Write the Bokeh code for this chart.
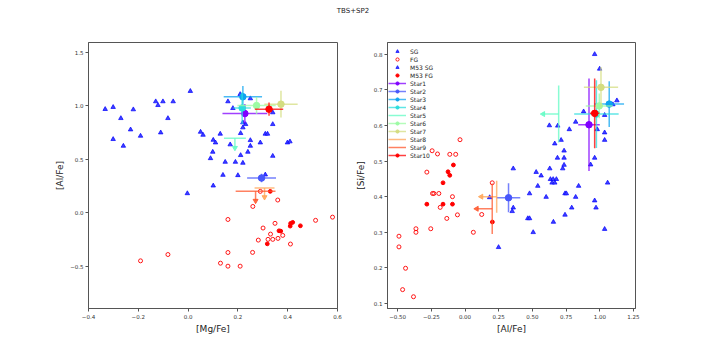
import numpy as np
from bokeh.plotting import figure
from bokeh.models import (Range1d, FixedTicker, Legend, LegendItem, Div,
                          CustomJSTickFormatter)
from bokeh.layouts import row, column
from bokeh.embed import file_html
from bokeh.resources import INLINE

TITLE = "TBS+SP2"
STAR_NAMES = ["Star1", "Star2", "Star3", "Star4", "Star5",
              "Star6", "Star7", "Star8", "Star9", "Star10"]

# ---------------- left panel: [Mg/Fe] vs [Al/Fe] ----------------
L_SG_MG = [-0.333, -0.301, -0.270, -0.220, -0.301, -0.260, -0.231, -0.191, -0.130, -0.121,
           -0.101, -0.060, -0.081, -0.110, 0.009, 0.050, 0.060, 0.129, 0.101, 0.110,
           0.169, 0.099, 0.090, 0.149, 0.190, 0.220, 0.211, 0.240, 0.250, 0.250,
           0.290, 0.211, 0.220, 0.231, 0.220, 0.310, 0.319, 0.340, 0.340, 0.340]
L_SG_AL = [0.969, 0.988, 0.884, 0.966, 0.688, 0.625, 0.778, 0.719, 1.041, 1.006,
           1.041, 1.041, 0.884, 0.750, 1.138, 0.756, 0.728, 0.738, 0.681, 0.656,
           0.638, 0.569, 0.509, 0.475, 0.475, 0.466, 0.538, 0.569, 0.625, 0.678,
           0.656, 0.744, 0.797, 0.828, 0.844, 0.738, 0.738, 0.828, 0.938, 0.531]
L_M53SG_MG = [0.399, 0.409, 0.140, 0.200, 0.310, 0.101, -0.003, 0.160, 0.180, 0.209, 0.250]
L_M53SG_AL = [0.656, 0.666, 0.353, 0.350, 0.356, 0.253, 0.181, 1.041, 0.978, 1.109, 1.069]

L_FG_MG = [0.160, 0.260, 0.360, -0.191, -0.081, 0.160, 0.130, 0.160, 0.209, 0.580, 0.349,
           0.512, 0.301, 0.331, 0.380, 0.282, 0.321, 0.340, 0.361, 0.411, 0.259, 0.290]
L_FG_AL = [-0.063, 0.059, 0.119, -0.450, -0.391, -0.372, -0.472, -0.500, -0.500, -0.041, -0.099,
           -0.071, -0.143, -0.200, -0.212, -0.256, -0.249, -0.249, -0.240, -0.293, -0.371, 0.200]
L_M53FG_MG = [0.412, 0.420, 0.410, 0.451, 0.365, 0.372, 0.318, 0.330]
L_M53FG_AL = [-0.099, -0.090, -0.125, -0.122, -0.169, -0.172, -0.291, 0.200]

L_STAR_MG = [0.228, 0.295, 0.220, 0.217, 0.188, 0.275, 0.373, 0.307, 0.271, 0.325]
L_STAR_AL = [0.928, 0.325, 1.085, 0.980, 0.697, 1.003, 1.016, 0.231, 0.200, 0.969]
L_STAR_MG_ERR = [0.090, 0.058, 0.077, 0.035, 0.044, 0.077, 0.067, 0.040, 0.080, 0.057]
L_STAR_AL_ERR = [0.090, 0.040, 0.100, 0.150, 0.090, 0.080, 0.125, 0.085, 0.088, 0.062]
L_STAR_AL_UPLIM = [False, False, False, False, True, False, False, True, True, False]

# ---------------- right panel: [Al/Fe] vs [Si/Fe] ----------------
R_SG_AL = [0.962, 0.999, 1.127, 1.097, 1.036, 0.880, 0.821, 0.688, 0.626, 0.774,
           0.981, 1.036, 1.036, 0.713, 0.666, 0.735, 0.686, 0.735, 0.962, 0.932,
           0.629, 0.725, 0.735, 0.358, 0.528, 0.565, 0.634, 0.654, 0.678, 0.646,
           0.666, 0.843, 1.058, 0.540, 0.479, 0.602, 0.742, 0.752, 0.821, 0.792]
R_SG_SI = [0.800, 0.759, 0.670, 0.659, 0.629, 0.639, 0.610, 0.599, 0.600, 0.589,
           0.589, 0.580, 0.559, 0.559, 0.549, 0.529, 0.509, 0.509, 0.509, 0.490,
           0.479, 0.479, 0.489, 0.479, 0.469, 0.459, 0.449, 0.449, 0.449, 0.439,
           0.439, 0.430, 0.439, 0.430, 0.409, 0.399, 0.409, 0.409, 0.399, 0.369]
R_M53SG_AL = [0.972, 0.962, 0.742, 0.358, 0.350, 0.466, 0.479, 0.656, 0.506, 1.036, 0.249, 0.183]
R_M53SG_SI = [0.369, 0.389, 0.349, 0.369, 0.359, 0.339, 0.339, 0.329, 0.300, 0.309, 0.258, 0.398]

R_FG_AL = [-0.037, -0.244, -0.204, -0.113, -0.069, -0.283, -0.241, -0.231, -0.194, -0.093,
           -0.184, -0.135, -0.056, -0.364, -0.364, -0.254, -0.490, -0.490, -0.441, -0.463,
           -0.382, 0.062, 0.124, 0.202]
R_FG_SI = [0.560, 0.529, 0.520, 0.519, 0.519, 0.469, 0.409, 0.409, 0.409, 0.400,
           0.370, 0.339, 0.349, 0.310, 0.300, 0.310, 0.289, 0.259, 0.199, 0.139,
           0.119, 0.300, 0.350, 0.439]
R_M53FG_AL = [-0.086, -0.126, -0.113, -0.163, -0.283, -0.163, -0.093, 0.203]
R_M53FG_SI = [0.489, 0.470, 0.460, 0.439, 0.379, 0.379, 0.379, 0.329]

R_STAR_AL = [0.920, 0.323, 1.070, 0.975, 0.695, 0.996, 1.009, 0.235, 0.202, 0.962]
R_STAR_SI = [0.602, 0.397, 0.660, 0.632, 0.632, 0.655, 0.707, 0.400, 0.366, 0.634]
R_STAR_AL_ERR = [0.080, 0.087, 0.110, 0.165, 0.115, 0.100, 0.127, 0.114, 0.115, 0.035]
R_STAR_SI_ERR = [0.130, 0.041, 0.064, 0.095, 0.080, 0.035, 0.057, 0.045, 0.071, 0.098]
R_STAR_AL_UPLIM = [False, False, False, False, True, False, False, True, True, False]

L_XTICKS = [-0.4, -0.2, 0.0, 0.2, 0.4, 0.6]
L_YTICKS = [-0.5, 0.0, 0.5, 1.0, 1.5]
R_XTICKS = [-0.5, -0.25, 0.0, 0.25, 0.5, 0.75, 1.0, 1.25]
R_YTICKS = [0.1, 0.2, 0.3, 0.4, 0.5, 0.6, 0.7, 0.8]

# styles
STAR_COLORS = ["#8000ff", "#4757fb", "#0ea4f0", "#2bdddd", "#62fbc4",
               "#9cfba4", "#d4dd80", "#ffa457", "#ff572c", "#ff0000"]
FONT = "DejaVu Sans"
AX_COLOR = "#555555"
TOP_BORDER = 20


def make_panel(xr, yr, xticks, yticks, xdig, ydig, xlabel, ylabel, fw, mbl, mbr):
    p = figure(frame_width=fw, frame_height=266,
               x_range=Range1d(*xr), y_range=Range1d(*yr),
               output_backend="svg", toolbar_location=None,
               min_border_left=mbl, min_border_right=mbr,
               min_border_top=TOP_BORDER, min_border_bottom=30)
    p.outline_line_color = AX_COLOR
    p.outline_line_width = 1
    p.xgrid.visible = False
    p.ygrid.visible = False
    for ax, ticks, dig, lab in ((p.xaxis[0], xticks, xdig, xlabel),
                                (p.yaxis[0], yticks, ydig, ylabel)):
        ax.ticker = FixedTicker(ticks=ticks)
        ax.formatter = CustomJSTickFormatter(
            code="return tick.toFixed(%d).replace('-', '\\u2212');" % dig)
        ax.axis_label = lab
        ax.axis_label_text_font = FONT
        ax.axis_label_text_font_size = "9px"
        ax.axis_label_text_font_style = "normal"
        ax.axis_label_text_color = "#222222"
        ax.major_label_text_font = FONT
        ax.major_label_text_font_size = "5.5px"
        ax.major_label_text_color = "#333333"
        ax.major_tick_out = 3
        ax.major_tick_in = 0
        ax.minor_tick_out = 0
        ax.minor_tick_in = 0
        ax.axis_line_color = AX_COLOR
        ax.major_tick_line_color = AX_COLOR
        ax.major_label_standoff = 2
        ax.axis_label_standoff = 2
    return p


def draw_groups(p, sg, fg, msg, mfg):
    r_sg = p.scatter(sg[0], sg[1], marker="triangle", size=4.5,
                     fill_color="#4040ff", line_color="blue", line_width=0.7)
    r_fg = p.scatter(fg[0], fg[1], marker="circle", size=4,
                     fill_color="white", fill_alpha=0, line_color="red", line_width=0.9)
    r_msg = p.scatter(msg[0], msg[1], marker="triangle", size=4.5,
                      fill_color="#4040ff", line_color="blue", line_width=0.7)
    r_mfg = p.scatter(mfg[0], mfg[1], marker="circle", size=3.8,
                      fill_color="red", line_color="red")
    return [("SG", r_sg), ("FG", r_fg), ("M53 SG", r_msg), ("M53 FG", r_mfg)]


def draw_stars(p, sx, sy, sxe, sye, ylim, xlim):
    sx, sy = np.array(sx), np.array(sy)
    sxe, sye = np.array(sxe), np.array(sye)
    ylim, xlim = np.array(ylim), np.array(xlim)
    x0 = sx - sxe
    x1 = np.where(xlim, sx, sx + sxe)
    y0 = sy - sye
    y1 = np.where(ylim, sy, sy + sye)
    items = []
    for i in range(len(sx)):
        c = STAR_COLORS[i]
        hr = p.segment(x0=[x0[i]], y0=[sy[i]], x1=[x1[i]], y1=[sy[i]],
                       line_color=c, line_width=1.5, line_alpha=0.75)
        p.segment(x0=[sx[i]], y0=[y0[i]], x1=[sx[i]], y1=[y1[i]],
                  line_color=c, line_width=1.5, line_alpha=0.75)
        if ylim[i]:
            p.scatter([sx[i]], [y0[i]], marker="inverted_triangle", size=5,
                      color=c, alpha=0.85)
        if xlim[i]:
            p.scatter([x0[i]], [sy[i]], marker="triangle", angle=np.pi / 2,
                      size=5, color=c, alpha=0.85)
        limited = bool(ylim[i] or xlim[i])
        mx = [] if limited else [sx[i]]
        my = [] if limited else [sy[i]]
        mr = p.scatter(mx, my, marker="circle", size=6.5, color=c)
        items.append((STAR_NAMES[i], [hr, mr]))
    return items


# left panel
p1 = make_panel((-0.4, 0.6), (-0.896, 1.593), L_XTICKS, L_YTICKS, 1, 1,
                "[Mg/Fe]", "[Al/Fe]", 249, 88, 7)
draw_groups(p1, (L_SG_MG, L_SG_AL), (L_FG_MG, L_FG_AL),
            (L_M53SG_MG, L_M53SG_AL), (L_M53FG_MG, L_M53FG_AL))
draw_stars(p1, L_STAR_MG, L_STAR_AL, L_STAR_MG_ERR, L_STAR_AL_ERR,
           L_STAR_AL_UPLIM, [False] * 10)

# right panel
p2 = make_panel((-0.575, 1.265), (0.086, 0.833), R_XTICKS, R_YTICKS, 2, 1,
                "[Al/Fe]", "[Si/Fe]", 248, 43, 10)
for ax in p2.yaxis:
    ax.axis_label_standoff = 5
grp = draw_groups(p2, (R_SG_AL, R_SG_SI), (R_FG_AL, R_FG_SI),
                  (R_M53SG_AL, R_M53SG_SI), (R_M53FG_AL, R_M53FG_SI))
stars = draw_stars(p2, R_STAR_AL, R_STAR_SI, R_STAR_AL_ERR, R_STAR_SI_ERR,
                   [False] * 10, R_STAR_AL_UPLIM)

items = [LegendItem(label=lab, renderers=[r]) for lab, r in grp]
items += [LegendItem(label=lab, renderers=rs) for lab, rs in stars]
legend = Legend(items=items, location=(-1, 147))
legend.glyph_width = 18
legend.glyph_height = 8
legend.label_height = 8
legend.spacing = 0
legend.padding = 2
legend.margin = 0
legend.label_standoff = 4
legend.label_text_font = FONT
legend.label_text_font_size = "6px"
legend.label_text_color = "#222222"
legend.border_line_alpha = 0
legend.background_fill_alpha = 0
p2.add_layout(legend)

title = Div(text=TITLE, width=706, height=22, margin=(0, 0, 0, 0),
            styles={"font-size": "7px", "font-family": FONT, "text-align": "center",
                    "line-height": "22px", "color": "#222222"})

layout = column(title, row(p1, p2))
open("out.html", "w").write(file_html(layout, INLINE))
